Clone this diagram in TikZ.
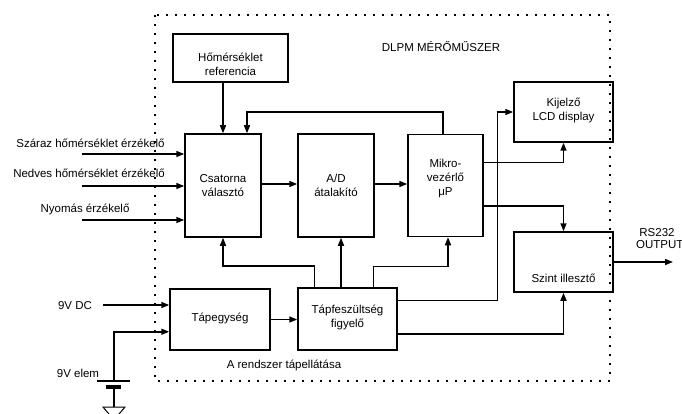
\documentclass[tikz,border=0pt]{standalone}
\usepackage{fontspec}
\setmainfont{Liberation Sans}
\usetikzlibrary{arrows.meta,calc}
\begin{document}
\begin{tikzpicture}[x=1pt,y=-1pt,
  box/.style={draw,line width=1.5pt,rectangle,inner sep=0pt},
  txt/.style={align=center,inner sep=0pt,font=\fontsize{11.5}{14}\selectfont},
  wire/.style={line width=1.5pt},
  arr/.style={line width=1.5pt,-{Triangle[length=8pt,width=6pt]}},
  frame/.style={line width=2pt,dash pattern=on 2pt off 7pt}]
\useasboundingbox (0,0) rectangle (682,414);
% dotted frame
\draw[frame] (155,15) rectangle (610,381);
% boxes
\node[box,minimum width=115pt,minimum height=48pt] (ref) at (230.5,58) {};
\node[box,minimum width=76pt,minimum height=103pt] (csat) at (223,185.5) {};
\node[box,minimum width=76pt,minimum height=103pt] (ad) at (336,185.5) {};
\node[box,minimum width=75pt,minimum height=102pt] (mikro) at (445.5,185.5) {};
\node[box,minimum width=99pt,minimum height=60pt] (kij) at (563.5,112) {};
\node[box,minimum width=99pt,minimum height=60pt] (szint) at (563.5,262) {};
\node[box,minimum width=100pt,minimum height=61pt] (tape) at (220,319.5) {};
\node[box,minimum width=99pt,minimum height=62pt] (tapf) at (347.5,319) {};
% box texts
\node[txt] (tref) at (230.5,64.5) {Hőmérséklet\\referencia};
\node[txt] (tcsat) at (223,185.5) {Csatorna\\választó};
\node[txt] (tad) at (336,185.5) {A/D\\átalakító};
\node[txt] (tmikro) at (445.5,178) {Mikro-\\vezérlő\\μP};
\node[txt] (tkij) at (563.5,110.5) {Kijelző\\LCD display};
\node[txt] (tszint) at (563.5,278) {Szint illesztő};
\node[txt] (ttape) at (220,318.5) {Tápegység};
\node[txt] (ttapf) at (347.5,317.5) {Tápfeszültség\\figyelő};
% free texts
\node[txt] (title) at (441,47) {DLPM MÉRŐMŰSZER};
\node[txt] (tapell) at (284,365) {A rendszer tápellátása};
\node[txt] (l1) at (90.5,143) {Száraz hőmérséklet érzékelő};
\node[txt] (l2) at (89,173) {Nedves hőmérséklet érzékelő};
\node[txt] (l3) at (85,209) {Nyomás érzékelő};
\node[txt] (l9dc) at (75,306) {9V DC};
\node[txt] (l9el) at (78,373) {9V elem};
\node[txt] (lrs) at (657,233) {RS232};
\node[txt,anchor=west] (lout) at (636,245) {OUTPUT};
% input arrows
\coordinate (in1) at (82,154);
\coordinate (in2) at (82,186);
\coordinate (in3) at (82,220);
\draw[arr] (in1) -- (in1 -| csat.west);
\draw[arr] (in2) -- (in2 -| csat.west);
\draw[arr] (in3) -- (in3 -| csat.west);
% reference to channel selector
\draw[arr] (csat.north |- ref.south) -- (csat.north);
% feedback from micro
\draw[arr] ($(mikro.north)+(-2.5,0)$) |- ($(csat.north)+(24,-21)$) -- ($(csat.north)+(24,0)$);
% main chain
\draw[arr] ($(csat.east)+(0,-1.5)$) -- ($(ad.west)+(0,-1.5)$);
\draw[arr] ($(ad.east)+(0,-1.5)$) -- ($(mikro.west)+(0,-1.5)$);
% micro outputs
\draw[arr] ($(mikro.north east)+(0,29)$) -| (kij.south);
\draw[arr] ($(mikro.north east)+(0,72)$) -| (szint.north);
% RS232 out
\coordinate (out) at (673,262);
\draw[arr] (szint.east) -- (out);
% power monitor outputs
\draw[arr] ($(tapf.north east)+(0,13)$) -| ($(kij.west)+(-16,0)$) -- (kij.west);
\draw[arr] ($(tapf.south east)+(0,-17)$) -| (szint.south);
\draw[arr] ($(tapf.north west)+(17,0)$) |- ($(csat.south)+(0,28)$) -- (csat.south);
\draw[arr] ($(ad.south)+(5,51)$) -- ($(ad.south)+(5,0)$);
\draw[arr] ($(tapf.north west)+(76,0)$) |- ($(mikro.south)+(2.5,29)$) -- ($(mikro.south)+(2.5,0)$);
% power supply
\draw[arr] (tape.east) -- (tapf.west |- tape.east);
\coordinate (dc) at (103,305);
\draw[arr] (dc) -- (dc -| tape.west);
\coordinate (bat) at (114,381);
\draw[arr] (bat) |- ($(tape.south west)+(0,-19)$);
% battery and ground
\draw[wire] (97,381) -- (130,381);
\draw[line width=3.5pt] (106,387) -- (121,387);
\draw[wire] (114,388) -- (114,407);
\draw[line width=1pt] (103,407) -- (125,407) -- (114,420) -- cycle;
\end{tikzpicture}
\end{document}
